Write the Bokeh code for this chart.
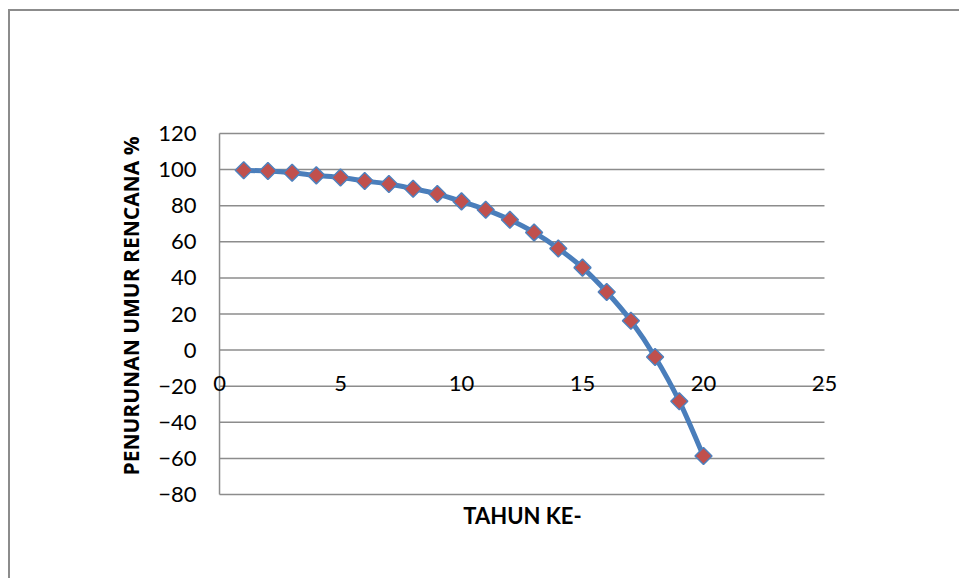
import math

from bokeh.embed import file_html
from bokeh.models import FixedTicker, LinearAxis, Range1d
from bokeh.plotting import figure
from bokeh.resources import INLINE

# Tahun ke- vs penurunan umur rencana (%)
tahun = list(range(1, 21))
penurunan = [99.6, 99.2, 98.3, 96.8, 95.6, 93.7, 92.0, 89.4, 86.5, 82.4,
             77.8, 72.2, 65.2, 56.3, 45.7, 32.2, 16.3, -3.8, -28.3, -58.7]
x_ticks = [0, 5, 10, 15, 20, 25]
y_ticks = [-80, -60, -40, -20, 0, 20, 40, 60, 80, 100, 120]

GRID = "#8c8c8c"
LINE = "#4a7ebb"
MARK_FILL = "#c0504d"
MARK_EDGE = "#4f81bd"

# plot area 0..25 x -80..120 drawn at 24.16 px / 1.805 px per unit;
# the frame is padded so edge labels and edge gridlines are not cut
PX_X = 24.16
PX_Y = 1.805

p = figure(width=959, height=578, output_backend="svg", toolbar_location=None,
           x_range=Range1d(-15 / PX_X, 25 + 16 / PX_X),
           y_range=Range1d(-80 - 3 / PX_Y, 120 + 19 / PX_Y),
           min_border_left=204, min_border_right=119,
           min_border_top=114, min_border_bottom=81)
# chart-area border on the left and top, painted as the element background
# behind a transparent canvas border
p.styles = {
    "background": ("linear-gradient(#8c8c8c, #8c8c8c) 8px 9px / 2px 569px no-repeat, "
                   "linear-gradient(#8c8c8c, #8c8c8c) 8px 9px / 951px 2px no-repeat, "
                   "white"),
}
p.background_fill_color = "white"
p.border_fill_color = None
p.outline_line_color = None

# x axis crosses the value axis at 0, labels below it
xa = p.xaxis[0]
xa.fixed_location = 0
xa.ticker = FixedTicker(ticks=x_ticks)
xa.axis_line_color = None
xa.major_tick_line_color = None
xa.minor_tick_line_color = None
xa.major_tick_out = 0
xa.major_label_standoff = 26
xa.major_label_text_font = "Lato"
xa.major_label_text_font_size = "22px"
xa.major_label_text_color = "black"

# separate axis carrying only the category-axis title, right under the plot area
title_axis = LinearAxis(ticker=FixedTicker(ticks=[]), axis_line_color=None,
                        major_tick_line_color=None, minor_tick_line_color=None,
                        major_tick_out=0, minor_tick_out=0,
                        major_label_standoff=0,
                        axis_label="TAHUN KE-", axis_label_standoff=4,
                        axis_label_text_font="Lato",
                        axis_label_text_font_style="bold",
                        axis_label_text_font_size="22px",
                        axis_label_text_color="black")
p.below = [title_axis, xa]

ya = p.yaxis[0]
ya.ticker = FixedTicker(ticks=y_ticks)
ya.axis_line_color = None
ya.major_tick_line_color = None
ya.minor_tick_line_color = None
ya.major_tick_out = 0
ya.minor_tick_out = 0
ya.major_label_standoff = 8
ya.major_label_text_font = "Lato"
ya.major_label_text_font_size = "22px"
ya.major_label_text_color = "black"
ya.axis_label = "PENURUNAN UMUR RENCANA %"
ya.axis_label_text_font = "Open Sans"
ya.axis_label_text_font_style = "bold"
ya.axis_label_text_font_size = "21px"
ya.axis_label_text_color = "black"
ya.axis_label_standoff = 10

p.xgrid.visible = False
p.ygrid.visible = False

# horizontal gridlines across the plot area only, and the value-axis line
p.segment(x0=[x_ticks[0]] * len(y_ticks), x1=[x_ticks[-1]] * len(y_ticks),
          y0=y_ticks, y1=y_ticks, line_color=GRID, line_width=1.5)
p.segment(x0=[0], x1=[0], y0=[y_ticks[0]], y1=[y_ticks[-1]],
          line_color=GRID, line_width=1.5)

# smoothed connecting line (Catmull-Rom segments as cubic Beziers)
n = len(tahun)
x0, y0, x1, y1, cx0, cy0, cx1, cy1 = ([] for _ in range(8))
for i in range(n - 1):
    a = max(i - 1, 0)
    d = min(i + 2, n - 1)
    x0.append(tahun[i]); y0.append(penurunan[i])
    x1.append(tahun[i + 1]); y1.append(penurunan[i + 1])
    cx0.append(tahun[i] + (tahun[i + 1] - tahun[a]) / 6)
    cy0.append(penurunan[i] + (penurunan[i + 1] - penurunan[a]) / 6)
    cx1.append(tahun[i + 1] - (tahun[d] - tahun[i]) / 6)
    cy1.append(penurunan[i + 1] - (penurunan[d] - penurunan[i]) / 6)
p.bezier(x0=x0, y0=y0, x1=x1, y1=y1, cx0=cx0, cy0=cy0, cx1=cx1, cy1=cy1,
         line_color=LINE, line_width=5)

p.scatter(tahun, penurunan, marker="square", size=12, angle=math.pi / 4,
          fill_color=MARK_FILL, line_color=MARK_EDGE, line_width=1.5)

open("out.html", "w").write(file_html(p, INLINE))
